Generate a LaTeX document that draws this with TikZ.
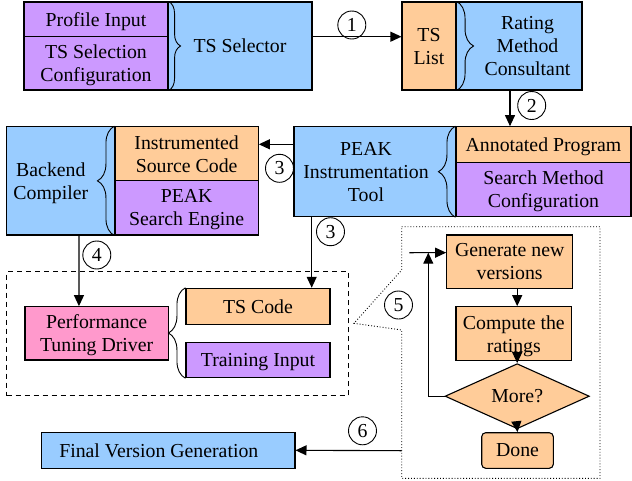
\documentclass[tikz,border=0pt]{standalone}
\usepackage{fontspec}
\setmainfont{Liberation Serif}
\usepackage{xcolor}
\usetikzlibrary{arrows.meta,shapes.geometric,decorations.pathreplacing}

\definecolor{boxblue}{HTML}{99CCFF}
\definecolor{boxpurple}{HTML}{CC99FF}
\definecolor{boxorange}{HTML}{FFCC99}
\definecolor{boxpink}{HTML}{FF99CC}

\begin{document}
\begin{tikzpicture}[x=1pt, y=-1pt, >={Triangle[length=11pt,width=10pt]}, line width=1.1pt,
                    font=\fontsize{19.8}{23}\selectfont,
                    box/.style={rectangle, draw, inner sep=2pt, align=center, text depth=0pt},
                    every label/.style={text depth=0pt},
                    num/.style={circle, draw, line width=0.9pt, minimum size=28pt, inner sep=0pt},
                    brc/.style={decorate, decoration={brace, amplitude=#1}, line width=0.9pt},
                    ]
                    \useasboundingbox (0,0) rectangle (632,480);

                    \node [box, fill=boxblue, minimum width=144pt, minimum height=88pt](13) at (240,46){TS Selector};
                    \node [box, fill=boxpurple, minimum width=144pt, minimum height=34.7pt](11) at (96,19.35){Profile Input};
                    \node [box, fill=boxpurple, minimum width=144pt, minimum height=53.3pt](12) at (96,63.35){TS Selection\\Configuration};
                    \node [box, fill=boxorange, minimum width=54pt, minimum height=88pt](14) at (429,46){TS\\List};
                    \node [box, fill=boxblue, minimum width=126pt, minimum height=88pt,
                           label={[xshift=8.5pt, align=center]center:{Rating\\Method\\Consultant}}](15) at (519,46){};

                    \node [box, fill=boxblue, minimum width=108.3pt, minimum height=108.3pt,
                           label={[xshift=-10pt, align=center]center:{Backend\\Compiler}}](21) at (60.85,180.85){};
                    \node [box, fill=boxorange, minimum width=143.3pt, minimum height=54pt](22) at (186.65,153.7){Instrumented\\Source Code};
                    \node [box, fill=boxpurple, minimum width=143.3pt, minimum height=54.3pt](23) at (186.65,207.85){PEAK\\Search Engine};
                    \node [box, fill=boxblue, minimum width=162pt, minimum height=90pt,
                           label={[xshift=-9pt, align=center]center:{PEAK\\Instrumentation\\Tool}}](24) at (375,171.7){};
                    \node [box, fill=boxorange, minimum width=175pt, minimum height=35.6pt](25) at (543.5,144.5){Annotated Program};
                    \node [box, fill=boxpurple, minimum width=175pt, minimum height=54.4pt](26) at (543.5,189.5){Search Method\\Configuration};

                    \node [rectangle, draw, dash pattern=on 5pt off 4pt, minimum width=341.6pt, minimum height=124pt](30) at (177.5,333.7){};
                    \node [box, fill=boxpink, minimum width=143.3pt, minimum height=53.3pt](31) at (96.65,333.35){Performance\\Tuning Driver};
                    \node [box, fill=boxorange, minimum width=144pt, minimum height=36pt](32) at (258,306.3){TS Code};
                    \node [box, fill=boxpurple, minimum width=144pt, minimum height=35pt](33) at (258,360.2){Training Input};

                    \node [box, fill=boxorange, minimum width=126pt, minimum height=53.3pt](41) at (509.7,261.65){Generate new\\versions};
                    \node [box, fill=boxorange, minimum width=115.7pt, minimum height=54pt](42) at (513.85,333.7){Compute the\\ratings};
                    \node [diamond, draw, fill=boxorange, inner sep=0pt, minimum width=144.3pt, minimum height=35.7pt](43) at (517.2,396.2){More?};
                    \node [box, fill=boxorange, rounded corners=4pt, minimum width=71.6pt, minimum height=35.6pt](44) at (517.5,450.5){Done};

                    \node [box, fill=boxblue, minimum width=253.3pt, minimum height=36pt,
                           label={[xshift=-9.5pt]center:Final Version Generation}](51) at (168.3,450.3){};

                    \draw [dotted, line width=0.9pt] (401.7,226.7) -- (600,226.7) -- (600,478.3) -- (401.7,478.3)
                        -- (401.7,330) -- (354,323.3) -- (401.7,270) -- cycle;
                    \coordinate (40) at (409.3,252.7);
                    \coordinate (45) at (428.3,252.7);
                    \coordinate (60) at (401.7,450.7);

                    \draw [brc=12pt] (11.north east) -- (12.south east);
                    \draw [brc=17pt] (14.north east) -- (14.south east);
                    \draw [brc=17pt] (23.south west) -- (22.north west);
                    \draw [brc=17pt] (26.south west) -- (25.north west);
                    \draw [brc=17pt] (33.south west) -- (32.north west);

                    \node [num](n1) at (351.8,25){1};
                    \node [num](n2) at (531.7,105.5){2};
                    \node [num](n3) at (279.5,168.3){3};
                    \node [num](n4) at (96.8,255){4};
                    \node [num](n5) at (398.5,305){5};
                    \node [num](n6) at (362.5,430.8){6};
                    \node [num](n7) at (330.5,231.7){3};

                    \path [->]
                        ([yshift=9.3pt]13.east) edge ([yshift=9.3pt]14.west)
                        ([xshift=-9pt]15.south) edge ([xshift=-33.5pt]25.north)
                        ([yshift=27.4pt]24.west) edge ([yshift=9.4pt]22.east)
                        ([xshift=-63.3pt]24.south) edge ([xshift=53.7pt]32.north)
                        ([xshift=18.2pt]21.south) edge ([xshift=-17.7pt]31.north)
                        (41.south -| 43) edge (42.north -| 43)
                        (42.south -| 43) edge (43.north)
                        (43.south) edge (44.north)
                        (40) edge ([yshift=9pt]41.west)
                        (60) edge (51.east)
                    ;
                    \draw [->] (43.west) -| (45);

                \end{tikzpicture}
\end{document}
